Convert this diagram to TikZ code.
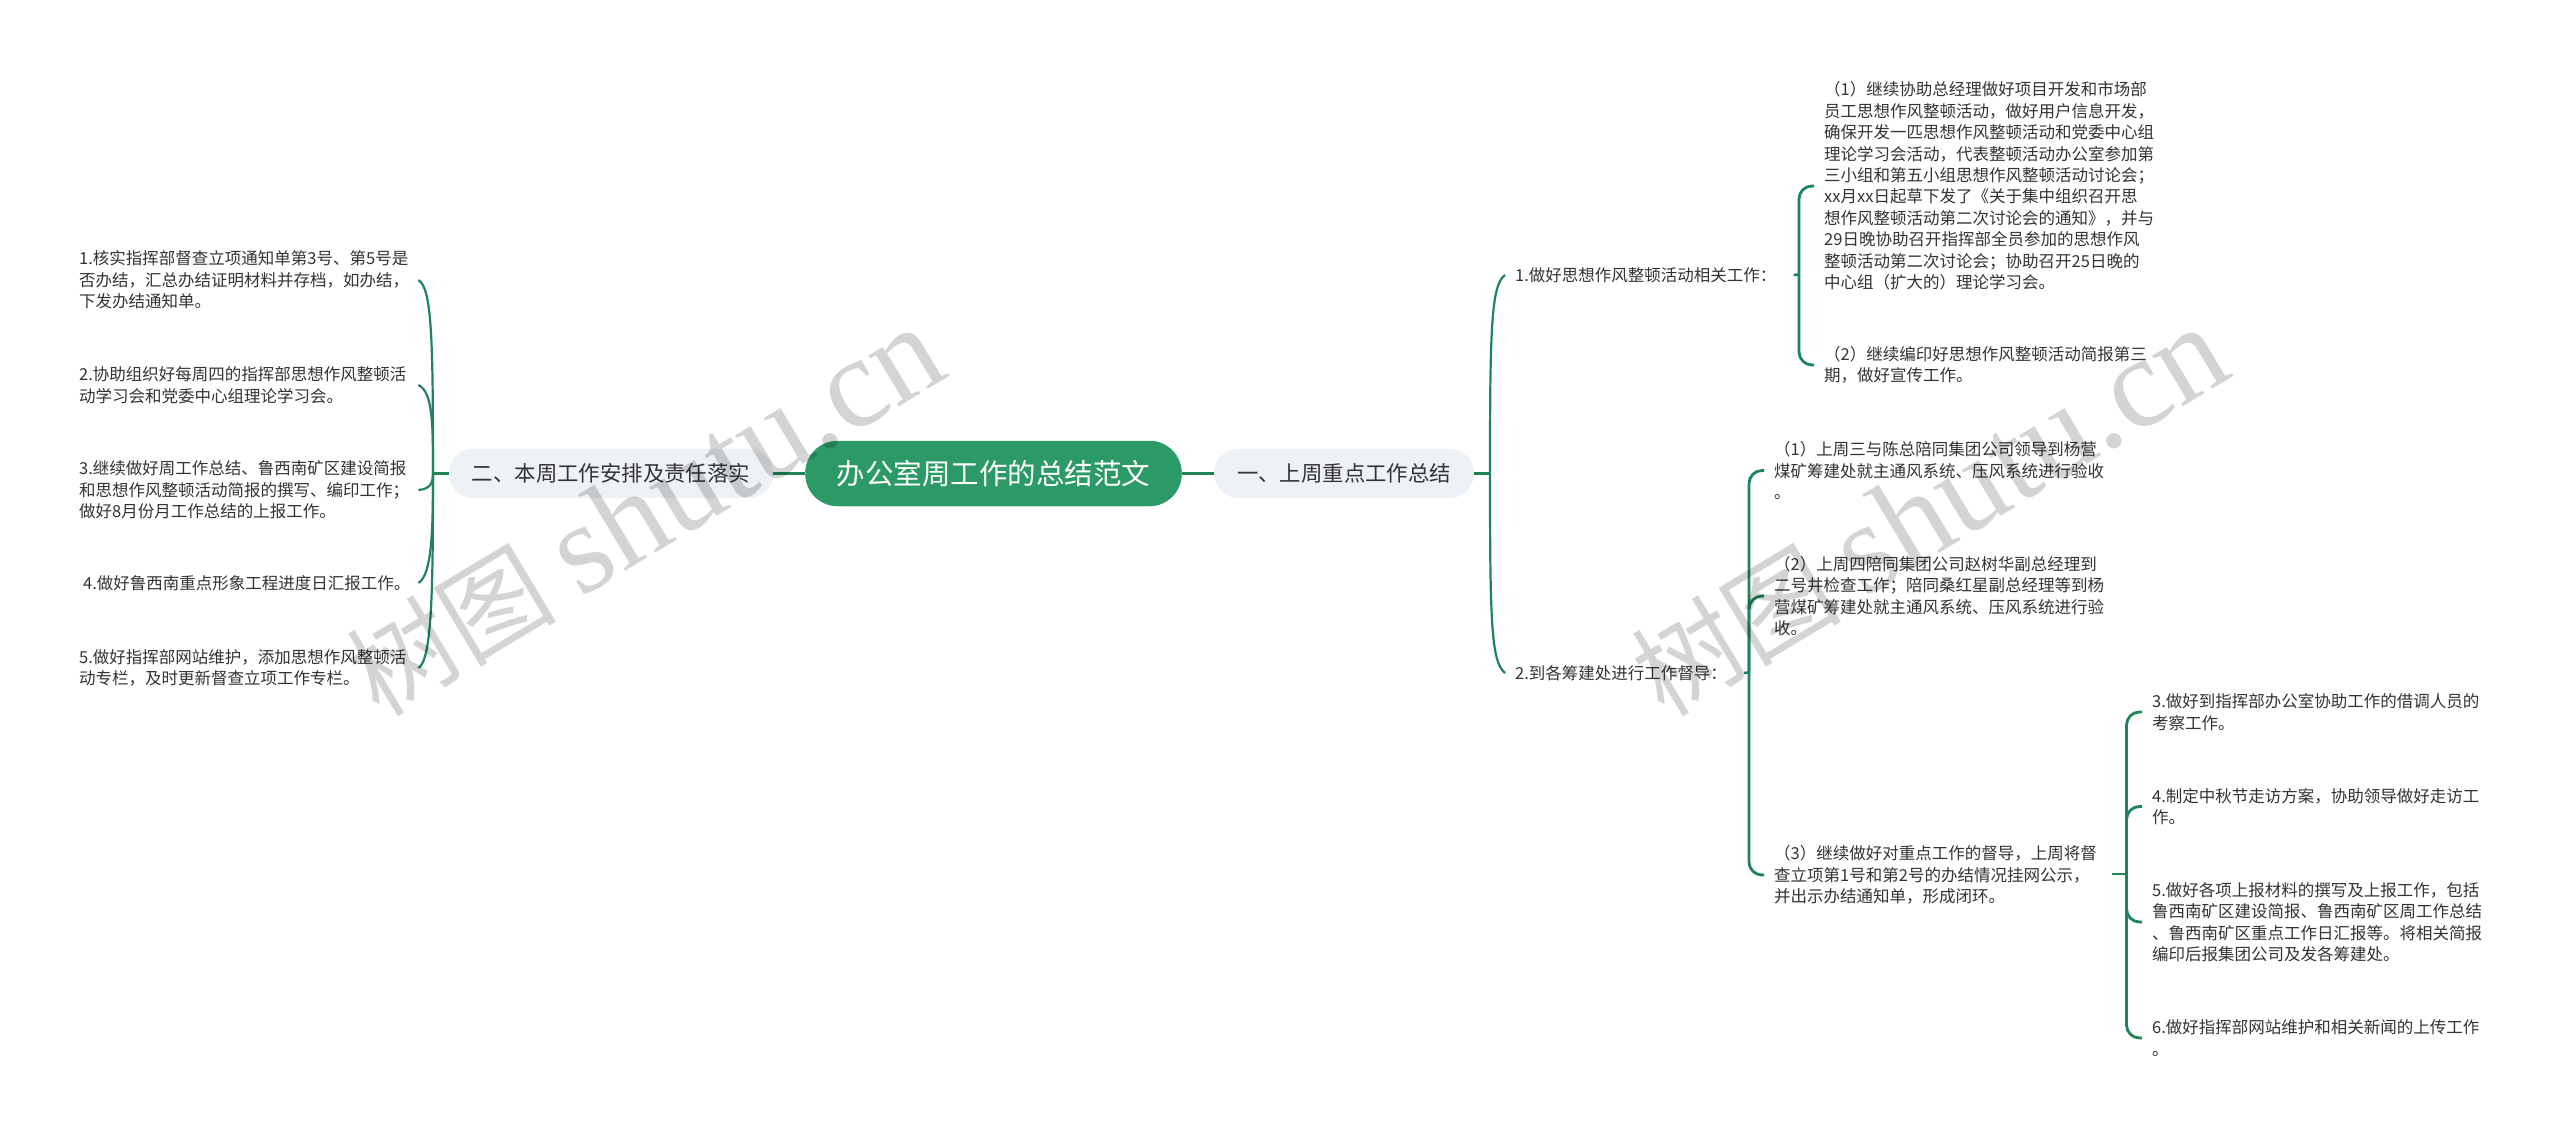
\documentclass[tikz,border=0pt]{standalone}
\usepackage{fontspec}
\setmainfont{Noto Sans CJK SC}
\newfontfamily\wmlatin{Liberation Serif}
\definecolor{rootgreen}{HTML}{2B9A67}
\definecolor{linegreen}{HTML}{1F8558}
\definecolor{pillgrey}{HTML}{EEF1F5}
\definecolor{inktext}{HTML}{333333}
\tikzset{
 x=1pt,y=-1pt,
 rootnode/.style={rounded corners=32pt,fill=rootgreen,draw=rootgreen,minimum width=376pt,minimum height=65pt,inner sep=0pt,text=white,font=\fontsize{28.5}{34}\selectfont},
 pill/.style={rounded corners=24pt,fill=pillgrey,minimum height=49pt,inner sep=0pt,text=inktext,font=\fontsize{21.4}{26}\selectfont},
 leaf/.style={inner sep=0pt,align=left,text=inktext,font=\fontsize{16.5}{21.4}\selectfont},
 wl/.style={leaf,anchor=west,text width=339pt},
 wr/.style={leaf,anchor=west,text width=355pt},
 link/.style={draw=linegreen,line width=2.6pt},
 thinlink/.style={draw=linegreen,line width=2.2pt},
 bracket/.style={draw=linegreen,line width=2.8pt,rounded corners=13pt},
 watermark/.style={text=black,opacity=.17,rotate=31,inner sep=0pt,font=\fontsize{105}{105}\selectfont},
}
\begin{document}
\begin{tikzpicture}
\useasboundingbox (0,0) rectangle (2560,1137);
\fill[white] (0,0) rectangle (2560,1137);
\node[rootnode] (root) at (993.5,473.5) {办公室周工作的总结范文};
\node[pill,minimum width=324pt] (left) at (611,473.5) {二、本周工作安排及责任落实};
\node[pill,minimum width=260pt] (right) at (1344,473.5) {一、上周重点工作总结};
% left leaves
\node[wl] (l1) at (79,280) {1.核实指挥部督查立项通知单第3号、第5号是\\否办结，汇总办结证明材料并存档，如办结，\\下发办结通知单。};
\node[wl] (l2) at (79,385) {2.协助组织好每周四的指挥部思想作风整顿活\\动学习会和党委中心组理论学习会。};
\node[wl] (l3) at (79,490) {3.继续做好周工作总结、鲁西南矿区建设简报\\和思想作风整顿活动简报的撰写、编印工作；\\做好8月份月工作总结的上报工作。};
\node[wl,text width=335pt] (l4) at (83,583) {4.做好鲁西南重点形象工程进度日汇报工作。};
\node[wl] (l5) at (79,668) {5.做好指挥部网站维护，添加思想作风整顿活\\动专栏，及时更新督查立项工作专栏。};
\coordinate (ltrunk) at (433,473.5);
\draw[link] (left.west) -- (ltrunk);
\draw[link] (root.west) -- (left.east);
\draw[link] (root.east) -- (right.west);
\draw[thinlink] (ltrunk) .. controls (433,340) and (432,288) .. (l1.east);
\draw[thinlink] (ltrunk) .. controls (433,425) and (433,392) .. (l2.east);
\draw[thinlink] (ltrunk) .. controls (433,482) and (431,489) .. (l3.east);
\draw[thinlink] (ltrunk) .. controls (433,530) and (432,575) .. (l4.east);
\draw[thinlink] (ltrunk) .. controls (433,590) and (432,660) .. (l5.east);
% right
\coordinate (rtrunk) at (1490,473.5);
\draw[link] (right.east) -- (rtrunk);
\node[leaf,anchor=west] (a) at (1515,275) {1.做好思想作风整顿活动相关工作：};
\node[leaf,anchor=west] (b) at (1515,673) {2.到各筹建处进行工作督导：};
\draw[thinlink] (rtrunk) .. controls (1490,330) and (1491,285) .. ([xshift=-10pt]a.west);
\draw[thinlink] (rtrunk) .. controls (1490,620) and (1491,662) .. ([xshift=-10pt]b.west);
\node[wr] (a1) at (1824,186) {（1）继续协助总经理做好项目开发和市场部\\员工思想作风整顿活动，做好用户信息开发，\\确保开发一匹思想作风整顿活动和党委中心组\\理论学习会活动，代表整顿活动办公室参加第\\三小组和第五小组思想作风整顿活动讨论会；\\xx月xx日起草下发了《关于集中组织召开思\\想作风整顿活动第二次讨论会的通知》，并与\\29日晚协助召开指挥部全员参加的思想作风\\整顿活动第二次讨论会；协助召开25日晚的\\中心组（扩大的）理论学习会。};
\node[wr] (a2) at (1824,365) {（2）继续编印好思想作风整顿活动简报第三\\期，做好宣传工作。};
\coordinate (atrunk) at (1799,274.5);
\draw[link] ([xshift=17pt]a.east) -- (atrunk);
\draw[bracket] ([xshift=-10pt]a1.west) -| (atrunk) |- ([xshift=-10pt]a2.west);
\node[wr] (c1) at (1774,470.5) {（1）上周三与陈总陪同集团公司领导到杨营\\煤矿筹建处就主通风系统、压风系统进行验收\\。};
\node[wr] (c2) at (1774,596) {（2）上周四陪同集团公司赵树华副总经理到\\二号井检查工作；陪同桑红星副总经理等到杨\\营煤矿筹建处就主通风系统、压风系统进行验\\收。};
\node[wr] (c3) at (1774,875) {（3）继续做好对重点工作的督导，上周将督\\查立项第1号和第2号的办结情况挂网公示，\\并出示办结通知单，形成闭环。};
\coordinate (btrunk) at (1749,672.5);
\draw[link] ([xshift=17pt]b.east) -- (btrunk);
\draw[bracket] ([xshift=-10pt]c1.west) -| (btrunk) |- ([xshift=-10pt]c3.west);
\draw[bracket] ([xshift=-10pt]c2.west) -| (btrunk);
\node[wr] (d1) at (2152,712) {3.做好到指挥部办公室协助工作的借调人员的\\考察工作。};
\node[wr] (d2) at (2152,806.5) {4.制定中秋节走访方案，协助领导做好走访工\\作。};
\node[wr] (d3) at (2152,922) {5.做好各项上报材料的撰写及上报工作，包括\\鲁西南矿区建设简报、鲁西南矿区周工作总结\\、鲁西南矿区重点工作日汇报等。将相关简报\\编印后报集团公司及发各筹建处。};
\node[wr] (d4) at (2152,1038) {6.做好指挥部网站维护和相关新闻的上传工作\\。};
\coordinate (ctrunk) at (2126.5,874);
\draw[link] ([xshift=-14.5pt]ctrunk) -- (ctrunk);
\draw[bracket] ([xshift=-10pt]d1.west) -| (ctrunk) |- ([xshift=-10pt]d4.west);
\draw[bracket] ([xshift=-10pt]d2.west) -| (ctrunk);
\draw[bracket] ([xshift=-10pt]d3.west) -| (ctrunk);
\node[watermark] (wm1) at (645,512) {树图 {\wmlatin\fontsize{129}{129}\selectfont shutu.cn}};
\node[watermark] (wm2) at (1929,512) {树图 {\wmlatin\fontsize{129}{129}\selectfont shutu.cn}};
\end{tikzpicture}
\end{document}
